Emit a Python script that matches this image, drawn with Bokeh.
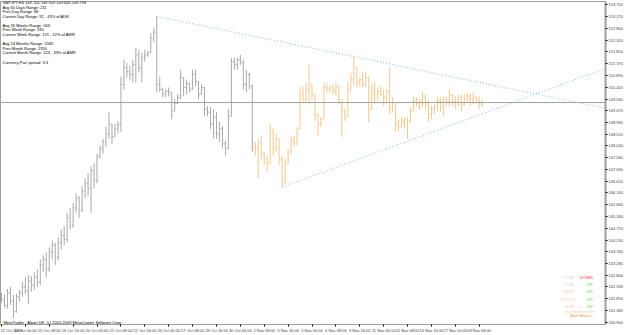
from bokeh.plotting import figure
from bokeh.models import Range1d, FixedTicker, Span, Label, ColumnDataSource, PrintfTickFormatter
from bokeh.embed import file_html
from bokeh.resources import INLINE

# ---------------- data ----------------
header = "GBPJPY,H4  149.720 149.920 149.640 149.798"
info_lines = [
    "Avg 60 Days Range: 211",
    "Prev Day Range: 86",
    "Current Day Range: 92 - 43% of ADR",
    "",
    "Avg 26 Weeks Range: 563",
    "Prev Week Range: 335",
    "Current Week Range: 125 - 22% of AWR",
    "",
    "Avg 24 Months Range: 1582",
    "Prev Month Range: 1350",
    "Current Month Range: 523 - 33% of AMR",
    "",
    "Currency Pair spread: 3.3",
]
copyright_text = "MetaTrader - Alpari UK, (c) 2001-2009 MetaQuotes Software Corp."

bar_high = [
    142.09, 142.01, 142.25, 142.33, 142.01, 142.05, 142.21, 142.53, 142.73, 142.81,
    142.77, 142.93, 143.05, 143.45, 143.61, 143.73, 143.93, 144.21, 144.13, 144.33,
    144.65, 144.81, 145.33, 145.53, 145.73, 146.13, 146.01, 146.41, 146.73, 146.93,
    147.21, 147.33, 147.73, 148.05, 148.33, 148.81, 149.41, 148.93, 148.93, 149.05,
    150.85, 151.53, 151.41, 151.29, 151.53, 152.01, 151.93, 151.81, 151.93, 151.89,
    152.61, 152.81, 153.29, 150.85, 150.41, 150.33, 150.41, 150.21, 149.93, 150.13,
    151.13, 150.81, 150.73, 150.61, 151.13, 151.13, 150.65, 150.53, 150.41, 149.65,
    149.61, 149.53, 149.41, 149.01, 148.85, 148.25, 149.53, 151.61, 151.61, 151.61,
    151.73, 151.53, 151.13, 151.01, 150.53, 148.21, 148.33, 148.45, 147.81, 147.65,
    148.93, 148.73, 148.53, 148.33, 147.61, 147.53, 147.93, 148.41, 148.45, 148.81,
    150.41, 150.45, 150.61, 151.33, 150.53, 150.13, 149.33, 149.21, 150.61, 150.61,
    150.49, 150.57, 150.61, 150.45, 149.93, 149.53, 150.65, 151.01, 151.65, 151.21,
    150.81, 151.01, 151.01, 150.85, 150.53, 150.65, 150.41, 150.45, 150.33, 150.33,
    151.21, 150.01, 149.73, 149.13, 149.21, 149.21, 149.21, 149.61, 150.05, 150.01,
    149.93, 150.21, 150.13, 149.93, 149.69, 149.73, 150.01, 150.01, 150.05, 150.05,
    150.33, 150.13, 150.05, 150.13, 150.09, 150.13, 150.21, 150.17, 150.21, 150.05,
    150.05, 149.92,
]
bar_low = [
    141.69, 141.49, 141.45, 141.61, 141.05, 141.29, 141.73, 141.93, 142.05, 141.65,
    142.13, 142.21, 142.33, 142.41, 142.93, 142.73, 142.93, 143.45, 143.21, 143.41,
    143.85, 144.01, 144.13, 144.65, 144.73, 145.33, 145.13, 145.37, 145.93, 146.01,
    145.33, 146.33, 146.53, 147.53, 147.73, 148.01, 148.33, 148.13, 148.41, 148.53,
    148.61, 150.33, 150.81, 150.73, 150.61, 150.61, 151.01, 150.61, 151.45, 151.65,
    151.81, 152.25, 150.21, 150.21, 150.01, 150.01, 150.05, 149.13, 149.45, 149.73,
    149.93, 150.05, 150.13, 150.21, 150.33, 150.45, 149.93, 150.13, 149.25, 149.25,
    148.73, 148.33, 148.33, 148.21, 147.93, 147.65, 147.93, 149.25, 151.13, 151.13,
    151.33, 150.33, 150.21, 150.33, 147.81, 147.65, 146.73, 147.53, 147.25, 147.01,
    147.33, 147.65, 147.81, 147.25, 146.37, 146.53, 147.33, 147.73, 148.01, 148.05,
    148.73, 149.85, 149.81, 149.73, 149.93, 149.05, 148.45, 148.81, 149.13, 150.21,
    150.21, 150.13, 150.05, 149.73, 148.41, 149.05, 149.21, 150.25, 150.53, 150.41,
    150.45, 150.41, 150.45, 149.01, 149.53, 149.81, 149.93, 150.05, 149.65, 149.81,
    149.33, 149.41, 148.61, 148.65, 148.81, 148.73, 148.33, 149.01, 149.45, 149.65,
    149.53, 149.61, 149.53, 149.01, 149.13, 149.33, 149.45, 149.41, 149.25, 149.65,
    149.65, 149.65, 149.53, 149.65, 149.45, 149.65, 149.81, 149.69, 149.73, 149.77,
    149.53, 149.64,
]
bar_open = [
    141.93, 141.81, 141.57, 142.09, 141.77, 141.33, 141.93, 142.09, 142.33, 142.17,
    142.57, 142.41, 142.73, 142.53, 143.21, 143.45, 143.05, 143.73, 144.01, 143.53,
    144.13, 144.41, 144.25, 145.13, 144.81, 145.53, 145.93, 145.45, 146.21, 146.53,
    146.33, 147.05, 146.65, 147.61, 147.93, 148.21, 148.53, 148.93, 148.41, 148.73,
    148.89, 150.53, 151.21, 151.05, 150.93, 151.33, 151.73, 151.21, 151.61, 151.73,
    151.81, 152.41, 152.65, 150.53, 150.33, 150.13, 150.25, 150.21, 149.45, 149.77,
    150.01, 150.81, 150.41, 150.57, 150.33, 150.93, 150.65, 150.13, 150.41, 149.53,
    149.41, 148.93, 149.21, 148.53, 148.73, 148.13, 147.93, 149.25, 151.45, 151.33,
    151.53, 151.41, 150.53, 150.93, 150.45, 148.01, 147.93, 148.13, 147.73, 147.53,
    147.33, 148.73, 147.93, 148.33, 147.53, 146.53, 147.33, 147.73, 148.25, 148.13,
    148.73, 150.13, 149.93, 150.33, 150.53, 150.13, 149.33, 148.93, 149.13, 150.41,
    150.33, 150.41, 150.25, 150.45, 149.93, 149.45, 149.21, 150.33, 150.73, 151.21,
    150.65, 150.73, 150.53, 150.81, 149.53, 150.25, 150.13, 150.25, 150.13, 150.01,
    150.25, 149.61, 149.73, 148.93, 148.81, 149.05, 148.93, 149.05, 149.45, 149.85,
    149.77, 149.81, 150.01, 149.73, 149.33, 149.53, 149.61, 149.85, 149.65, 149.93,
    149.85, 150.09, 149.81, 149.93, 150.01, 149.73, 149.97, 150.05, 149.93, 150.01,
    149.89, 149.72,
]
bar_close = [
    141.81, 141.57, 142.09, 141.77, 141.33, 141.93, 142.09, 142.33, 142.17, 142.57,
    142.41, 142.73, 142.53, 143.21, 143.45, 143.05, 143.73, 144.01, 143.53, 144.13,
    144.41, 144.25, 145.13, 144.81, 145.53, 145.93, 145.45, 146.21, 146.53, 146.33,
    147.05, 146.65, 147.61, 147.93, 148.21, 148.53, 148.93, 148.41, 148.73, 148.89,
    150.53, 151.21, 151.05, 150.93, 151.33, 151.73, 151.21, 151.61, 151.73, 151.81,
    152.41, 152.65, 150.53, 150.33, 150.13, 150.25, 150.21, 149.45, 149.77, 150.01,
    150.81, 150.41, 150.57, 150.33, 150.93, 150.65, 150.13, 150.41, 149.53, 149.41,
    148.93, 149.21, 148.53, 148.73, 148.13, 147.93, 149.25, 151.45, 151.33, 151.53,
    151.41, 150.53, 150.93, 150.45, 148.01, 147.93, 148.13, 147.73, 147.53, 147.33,
    148.73, 147.93, 148.33, 147.53, 146.53, 147.33, 147.73, 148.25, 148.13, 148.73,
    150.13, 149.93, 150.33, 150.53, 150.13, 149.33, 148.93, 149.13, 150.41, 150.33,
    150.41, 150.25, 150.45, 149.93, 149.45, 149.21, 150.33, 150.73, 151.21, 150.65,
    150.73, 150.53, 150.81, 149.53, 150.25, 150.13, 150.25, 150.13, 150.01, 150.25,
    149.61, 149.73, 148.93, 148.81, 149.05, 148.93, 149.05, 149.45, 149.85, 149.77,
    149.81, 150.01, 149.73, 149.33, 149.53, 149.61, 149.85, 149.65, 149.93, 149.85,
    150.09, 149.81, 149.93, 150.01, 149.73, 149.97, 150.05, 149.93, 150.01, 149.89,
    149.77, 149.798,
]
last_price = 149.798
triangle_start_bar = 85   # bars from here on drawn in the triangle colour

time_tick_bars = [0, 8, 16, 24, 32, 40, 48, 56, 64, 72, 80, 88, 96, 104, 112, 120,
                  128, 136, 144, 152, 160]
time_tick_labels = ["12 Oct 2009", "14 Oct 00:00", "15 Oct 08:00", "16 Oct 16:00",
                    "20 Oct 00:00", "21 Oct 08:00", "22 Oct 16:00", "26 Oct 00:00",
                    "27 Oct 08:00", "28 Oct 16:00", "30 Oct 00:00", "2 Nov 08:00",
                    "3 Nov 16:00", "5 Nov 00:00", "6 Nov 08:00", "9 Nov 16:00",
                    "11 Nov 00:00", "12 Nov 08:00", "13 Nov 16:00", "17 Nov 00:00",
                    "18 Nov 08:00"]
price_ticks = [153.750, 153.270, 152.800, 152.320, 151.850, 151.370, 150.890, 150.420,
               149.940, 149.470, 148.990, 148.510, 148.040, 147.560, 147.090, 146.610,
               146.140, 145.660, 145.180, 144.710, 144.230, 143.760, 143.280, 142.800,
               142.330, 141.850, 141.380, 140.900]

upper_trend_bars = [52, 203]
upper_trend_price = [153.29, 149.55]
lower_trend_bars = [94, 203]
lower_trend_price = [146.37, 151.21]

moves_names = ["TODAY", "Y-DAY", "WEEK", "MONTH", "YEAR"]
moves_dirs = ["DOWN", "UP", "UP", "UP", "UP"]

# ---------------- figure ----------------
X0, X1 = -0.33, 202.3
Y0, Y1 = 140.81, 153.89

p = figure(width=625, height=335, x_range=Range1d(X0, X1), y_range=Range1d(Y0, Y1),
           y_axis_location="right", output_backend="svg", toolbar_location=None,
           min_border_left=0, min_border_right=0, min_border_top=1, min_border_bottom=0)
p.grid.visible = False
p.outline_line_color = "#a0a0a0"
p.background_fill_color = "white"
p.border_fill_color = "white"

FONT = "Liberation Sans"

# right price axis
ya = p.yaxis[0]
ya.ticker = FixedTicker(ticks=price_ticks)
ya.formatter = PrintfTickFormatter(format="%.3f")
ya.major_label_text_font_size = "4px"
ya.major_label_text_font = FONT
ya.major_label_standoff = 1
ya.major_tick_out = 2
ya.major_tick_in = 0
ya.minor_tick_out = 0
ya.minor_tick_in = 0
ya.axis_line_color = "#a0a0a0"
ya.axis_line_width = 2
ya.major_tick_line_color = "#000000"

# bottom time axis
xa = p.xaxis[0]
xa.ticker = FixedTicker(ticks=time_tick_bars)
xa.major_label_overrides = {b: t for b, t in zip(time_tick_bars, time_tick_labels)}
xa.major_label_text_font_size = "4px"
xa.major_label_text_font = FONT
xa.major_label_text_align = "left"
xa.major_label_standoff = 1
xa.major_tick_out = 2
xa.major_tick_in = 0
xa.minor_tick_out = 0
xa.minor_tick_in = 0
xa.axis_line_color = "#a0a0a0"
xa.major_tick_line_color = "#000000"

# bars
n = len(bar_high)
idx = list(range(n))
colors = ["#a9a9a9" if i < triangle_start_bar else "#f2c98e" for i in idx]
src = ColumnDataSource(dict(
    x=idx, xl=[i - 0.4 for i in idx], xr=[i + 0.4 for i in idx],
    hi=bar_high, lo=bar_low, op=bar_open, cl=bar_close, c=colors))
p.segment(x0="x", y0="lo", x1="x", y1="hi", line_color="c", line_width=1, source=src)
p.segment(x0="xl", y0="op", x1="x", y1="op", line_color="c", line_width=1, source=src)
p.segment(x0="x", y0="cl", x1="xr", y1="cl", line_color="c", line_width=1, source=src)

# current price line
p.add_layout(Span(location=last_price, dimension="width", line_color="#a0a0a0", line_width=1))

# triangle trend lines
p.line(upper_trend_bars, upper_trend_price, line_color="#86bcd2", line_width=1, line_dash="1 2")
p.line(lower_trend_bars, lower_trend_price, line_color="#86bcd2", line_width=1, line_dash="1 2")


# helpers for placing annotation texts at pixel positions
def px(x):
    return X0 + x / 3.0


def py(y):
    return Y1 - (y - 1) / 24.9


# current price marker on the axis
p.add_layout(Label(x=px(612), y=last_price, text=f"{last_price:.2f}", text_color="white",
                   text_font_size="4px", text_font=FONT, text_baseline="middle",
                   background_fill_color="black", x_offset=0))

# top-left info texts
lines = [header] + info_lines
y = 2.0
for t in lines:
    if t:
        p.add_layout(Label(x=px(2), y=py(y), text=t, text_font_size="4px", text_font=FONT,
                           text_color="#000000", text_baseline="middle"))
    y += 4.62

p.add_layout(Label(x=px(3), y=py(325), text=copyright_text, text_font_size="4px",
                   text_font=FONT, text_color="#000000", text_baseline="middle"))

# main moves box
ys = [279, 286.3, 293.7, 301, 308.3]
for name, d, yy in zip(moves_names, moves_dirs, ys):
    p.add_layout(Label(x=px(577), y=py(yy), text=name, text_font_size="4px", text_font=FONT,
                       text_color="#f4d6bf", text_align="right", text_baseline="middle"))
    p.add_layout(Label(x=px(595), y=py(yy), text=d, text_font_size="4px", text_font=FONT,
                       text_color="#de3452" if d == "DOWN" else "#55d455",
                       text_align="right", text_baseline="middle"))
p.line([px(567), px(597)], [py(314), py(314)], line_color="#e2b27a", line_width=1,
       line_dash="1 1")
p.add_layout(Label(x=px(583), y=py(318), text="Main Moves", text_font_size="4px",
                   text_font=FONT, text_color="#e39a3c", text_align="center",
                   text_baseline="middle"))

open("out.html", "w").write(file_html(p, INLINE))
